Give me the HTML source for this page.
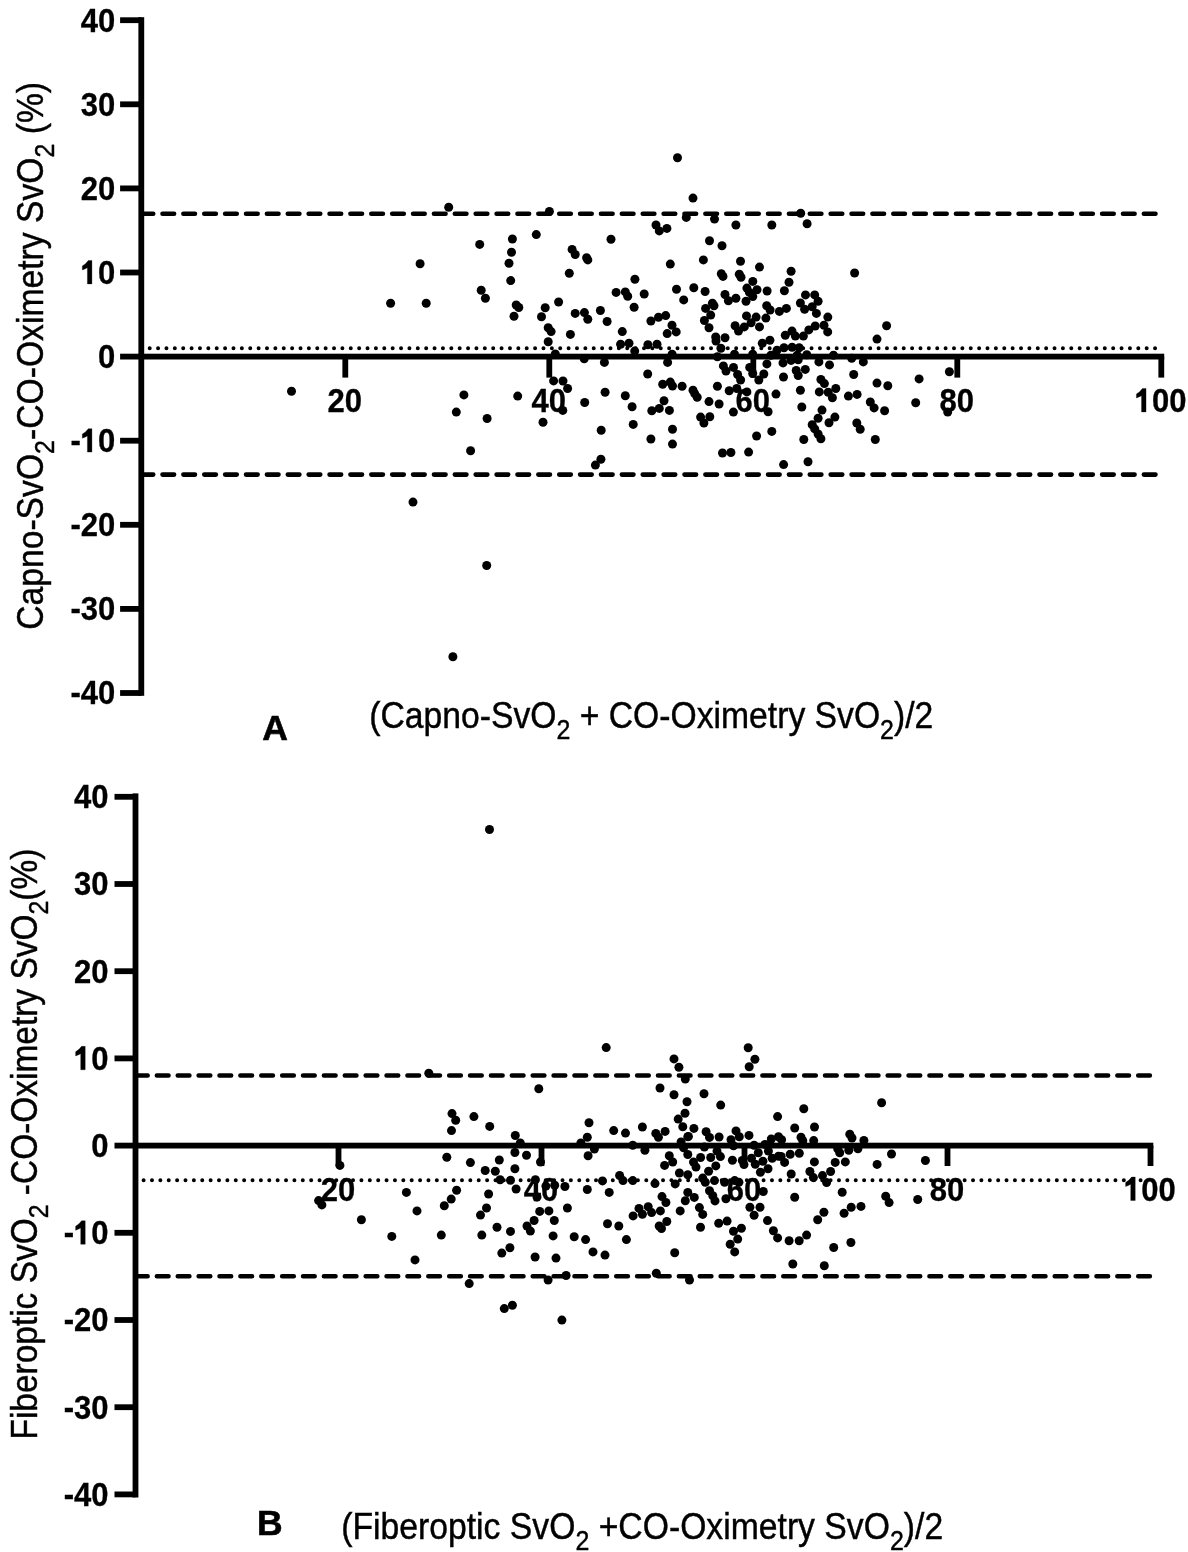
<!DOCTYPE html>
<html><head><meta charset="utf-8"><style>
html,body{margin:0;padding:0;background:#fff;}
svg{display:block;filter:grayscale(1);}
text{font-family:"Liberation Sans",sans-serif;fill:#000;}
.tk{font-weight:bold;font-size:31px;}
.tkg{stroke:#000;stroke-width:0.3px;}
.lab{font-size:33.5px;stroke:#000;stroke-width:0.4px;}
.pl{font-weight:bold;font-size:35.5px;stroke:#000;stroke-width:0.6px;}
</style></head><body>
<svg width="1188" height="1552" viewBox="0 0 1188 1552">
<rect width="1188" height="1552" fill="#fff"/>
<g fill="#000">
<rect x="138.40" y="17.20" width="5.8" height="678.60"/>
<rect x="120.10" y="17.30" width="21.20" height="5.8"/>
<g class="tkg" transform="translate(80.72,31.60) scale(1,1.07)"><text class="tk" x="0.00" y="0">40</text></g>
<rect x="120.10" y="101.40" width="21.20" height="5.8"/>
<g class="tkg" transform="translate(80.72,115.70) scale(1,1.07)"><text class="tk" x="0.00" y="0">30</text></g>
<rect x="120.10" y="185.50" width="21.20" height="5.8"/>
<g class="tkg" transform="translate(80.72,199.80) scale(1,1.07)"><text class="tk" x="0.00" y="0">20</text></g>
<rect x="120.10" y="269.60" width="21.20" height="5.8"/>
<g class="tkg" transform="translate(80.72,283.90) scale(1,1.07)"><path transform="translate(11.59,0)" d="M-0.4,0 L-0.4,-21.9 L-4.0,-21.9 Q-6.3,-18.8 -10.0,-16.8 L-10.0,-13.0 Q-7.4,-14.0 -4.9,-15.1 L-4.9,0 Z"/><text class="tk" x="17.24" y="0">0</text></g>
<rect x="120.10" y="353.70" width="21.20" height="5.8"/>
<g class="tkg" transform="translate(97.96,368.00) scale(1,1.07)"><text class="tk" x="0.00" y="0">0</text></g>
<rect x="120.10" y="437.80" width="21.20" height="5.8"/>
<g class="tkg" transform="translate(70.40,452.10) scale(1,1.07)"><text class="tk" x="0.00" y="0">-</text><path transform="translate(21.92,0)" d="M-0.4,0 L-0.4,-21.9 L-4.0,-21.9 Q-6.3,-18.8 -10.0,-16.8 L-10.0,-13.0 Q-7.4,-14.0 -4.9,-15.1 L-4.9,0 Z"/><text class="tk" x="27.56" y="0">0</text></g>
<rect x="120.10" y="521.90" width="21.20" height="5.8"/>
<g class="tkg" transform="translate(70.40,536.20) scale(1,1.07)"><text class="tk" x="0.00" y="0">-20</text></g>
<rect x="120.10" y="606.00" width="21.20" height="5.8"/>
<g class="tkg" transform="translate(70.40,620.30) scale(1,1.07)"><text class="tk" x="0.00" y="0">-30</text></g>
<rect x="120.10" y="690.10" width="21.20" height="5.8"/>
<g class="tkg" transform="translate(70.40,704.40) scale(1,1.07)"><text class="tk" x="0.00" y="0">-40</text></g>
<rect x="141.30" y="353.70" width="1022.90" height="5.8"/>
<rect x="342.40" y="356.60" width="5.8" height="21.00"/>
<g class="tkg" transform="translate(327.46,411.90) scale(1,1.07)"><text class="tk" x="0.00" y="0">20</text></g>
<rect x="546.40" y="356.60" width="5.8" height="21.00"/>
<g class="tkg" transform="translate(531.46,411.90) scale(1,1.07)"><text class="tk" x="0.00" y="0">40</text></g>
<rect x="750.40" y="356.60" width="5.8" height="21.00"/>
<g class="tkg" transform="translate(735.46,411.90) scale(1,1.07)"><text class="tk" x="0.00" y="0">60</text></g>
<rect x="954.40" y="356.60" width="5.8" height="21.00"/>
<g class="tkg" transform="translate(939.46,411.90) scale(1,1.07)"><text class="tk" x="0.00" y="0">80</text></g>
<rect x="1158.40" y="356.60" width="5.8" height="21.00"/>
<g class="tkg" transform="translate(1134.84,411.90) scale(1,1.07)"><path transform="translate(11.59,0)" d="M-0.4,0 L-0.4,-21.9 L-4.0,-21.9 Q-6.3,-18.8 -10.0,-16.8 L-10.0,-13.0 Q-7.4,-14.0 -4.9,-15.1 L-4.9,0 Z"/><text class="tk" x="17.24" y="0">00</text></g>
<line x1="141.63" y1="213.7" x2="1155.47" y2="213.7" stroke="#000" stroke-width="4.6" stroke-linecap="round" stroke-dasharray="11.6 9.28"/>
<line x1="141.63" y1="474.6" x2="1155.47" y2="474.6" stroke="#000" stroke-width="4.6" stroke-linecap="round" stroke-dasharray="11.6 9.28"/>
<line x1="149.70" y1="348.3" x2="1155.20" y2="348.3" stroke="#000" stroke-width="4.0" stroke-linecap="round" stroke-dasharray="0 8.378"/>
<circle cx="448.7" cy="207.3" r="4.5"/>
<circle cx="549.4" cy="211.5" r="4.5"/>
<circle cx="536.3" cy="234.6" r="4.5"/>
<circle cx="512.4" cy="239.0" r="4.5"/>
<circle cx="479.7" cy="244.4" r="4.5"/>
<circle cx="511.5" cy="252.3" r="4.5"/>
<circle cx="420.1" cy="263.7" r="4.5"/>
<circle cx="509.0" cy="263.2" r="4.5"/>
<circle cx="510.7" cy="280.6" r="4.5"/>
<circle cx="481.2" cy="290.3" r="4.5"/>
<circle cx="485.4" cy="298.2" r="4.5"/>
<circle cx="390.6" cy="303.3" r="4.5"/>
<circle cx="426.2" cy="303.3" r="4.5"/>
<circle cx="516.2" cy="305.0" r="4.5"/>
<circle cx="518.8" cy="307.5" r="4.5"/>
<circle cx="558.6" cy="302.0" r="4.5"/>
<circle cx="545.2" cy="307.8" r="4.5"/>
<circle cx="514.0" cy="316.3" r="4.5"/>
<circle cx="541.5" cy="316.8" r="4.5"/>
<circle cx="548.2" cy="327.7" r="4.5"/>
<circle cx="551.1" cy="331.6" r="4.5"/>
<circle cx="677.5" cy="157.7" r="4.5"/>
<circle cx="693.0" cy="198.1" r="4.5"/>
<circle cx="686.3" cy="217.4" r="4.5"/>
<circle cx="714.5" cy="219.1" r="4.5"/>
<circle cx="735.9" cy="225.0" r="4.5"/>
<circle cx="656.0" cy="225.0" r="4.5"/>
<circle cx="659.3" cy="230.9" r="4.5"/>
<circle cx="666.9" cy="228.4" r="4.5"/>
<circle cx="611.0" cy="239.3" r="4.5"/>
<circle cx="709.5" cy="240.7" r="4.5"/>
<circle cx="722.0" cy="245.7" r="4.5"/>
<circle cx="572.1" cy="249.4" r="4.5"/>
<circle cx="575.2" cy="254.5" r="4.5"/>
<circle cx="586.6" cy="257.8" r="4.5"/>
<circle cx="587.8" cy="259.9" r="4.5"/>
<circle cx="670.3" cy="264.1" r="4.5"/>
<circle cx="703.4" cy="259.9" r="4.5"/>
<circle cx="740.5" cy="261.2" r="4.5"/>
<circle cx="759.5" cy="267.1" r="4.5"/>
<circle cx="569.3" cy="273.3" r="4.5"/>
<circle cx="721.3" cy="273.8" r="4.5"/>
<circle cx="723.0" cy="276.4" r="4.5"/>
<circle cx="739.3" cy="274.3" r="4.5"/>
<circle cx="741.0" cy="277.2" r="4.5"/>
<circle cx="634.9" cy="279.2" r="4.5"/>
<circle cx="752.8" cy="281.4" r="4.5"/>
<circle cx="616.1" cy="292.4" r="4.5"/>
<circle cx="625.3" cy="291.9" r="4.5"/>
<circle cx="627.7" cy="296.2" r="4.5"/>
<circle cx="644.2" cy="294.0" r="4.5"/>
<circle cx="676.5" cy="289.3" r="4.5"/>
<circle cx="693.8" cy="287.8" r="4.5"/>
<circle cx="705.1" cy="291.5" r="4.5"/>
<circle cx="746.9" cy="288.1" r="4.5"/>
<circle cx="749.4" cy="292.4" r="4.5"/>
<circle cx="757.0" cy="289.8" r="4.5"/>
<circle cx="752.8" cy="296.6" r="4.5"/>
<circle cx="725.0" cy="294.5" r="4.5"/>
<circle cx="728.4" cy="300.8" r="4.5"/>
<circle cx="735.9" cy="298.2" r="4.5"/>
<circle cx="746.0" cy="301.3" r="4.5"/>
<circle cx="683.7" cy="299.9" r="4.5"/>
<circle cx="712.4" cy="303.3" r="4.5"/>
<circle cx="714.0" cy="305.8" r="4.5"/>
<circle cx="705.6" cy="308.4" r="4.5"/>
<circle cx="634.1" cy="307.2" r="4.5"/>
<circle cx="600.4" cy="310.5" r="4.5"/>
<circle cx="575.2" cy="313.4" r="4.5"/>
<circle cx="584.4" cy="312.6" r="4.5"/>
<circle cx="587.8" cy="319.3" r="4.5"/>
<circle cx="607.1" cy="321.5" r="4.5"/>
<circle cx="665.7" cy="315.6" r="4.5"/>
<circle cx="658.5" cy="317.3" r="4.5"/>
<circle cx="650.9" cy="321.0" r="4.5"/>
<circle cx="710.7" cy="315.1" r="4.5"/>
<circle cx="704.4" cy="320.5" r="4.5"/>
<circle cx="746.5" cy="315.9" r="4.5"/>
<circle cx="756.1" cy="317.1" r="4.5"/>
<circle cx="751.1" cy="322.7" r="4.5"/>
<circle cx="759.5" cy="326.9" r="4.5"/>
<circle cx="735.1" cy="325.7" r="4.5"/>
<circle cx="744.3" cy="326.9" r="4.5"/>
<circle cx="738.5" cy="331.1" r="4.5"/>
<circle cx="709.0" cy="327.7" r="4.5"/>
<circle cx="672.0" cy="325.2" r="4.5"/>
<circle cx="676.2" cy="331.9" r="4.5"/>
<circle cx="667.2" cy="333.6" r="4.5"/>
<circle cx="622.3" cy="331.6" r="4.5"/>
<circle cx="570.4" cy="334.4" r="4.5"/>
<circle cx="715.7" cy="337.0" r="4.5"/>
<circle cx="725.0" cy="337.8" r="4.5"/>
<circle cx="800.7" cy="213.2" r="4.5"/>
<circle cx="771.8" cy="225.0" r="4.5"/>
<circle cx="807.1" cy="223.7" r="4.5"/>
<circle cx="791.1" cy="271.3" r="4.5"/>
<circle cx="854.6" cy="273.0" r="4.5"/>
<circle cx="789.0" cy="282.3" r="4.5"/>
<circle cx="784.4" cy="290.7" r="4.5"/>
<circle cx="767.1" cy="291.0" r="4.5"/>
<circle cx="805.5" cy="294.9" r="4.5"/>
<circle cx="814.7" cy="294.9" r="4.5"/>
<circle cx="818.1" cy="301.3" r="4.5"/>
<circle cx="800.4" cy="303.0" r="4.5"/>
<circle cx="812.2" cy="306.7" r="4.5"/>
<circle cx="804.6" cy="309.2" r="4.5"/>
<circle cx="816.4" cy="313.4" r="4.5"/>
<circle cx="766.7" cy="305.8" r="4.5"/>
<circle cx="770.1" cy="310.0" r="4.5"/>
<circle cx="779.4" cy="311.4" r="4.5"/>
<circle cx="786.4" cy="308.4" r="4.5"/>
<circle cx="765.9" cy="318.1" r="4.5"/>
<circle cx="827.8" cy="317.1" r="4.5"/>
<circle cx="886.6" cy="325.7" r="4.5"/>
<circle cx="815.2" cy="326.0" r="4.5"/>
<circle cx="808.8" cy="329.9" r="4.5"/>
<circle cx="824.0" cy="325.2" r="4.5"/>
<circle cx="827.7" cy="331.9" r="4.5"/>
<circle cx="785.3" cy="335.3" r="4.5"/>
<circle cx="792.0" cy="331.1" r="4.5"/>
<circle cx="795.4" cy="336.1" r="4.5"/>
<circle cx="803.4" cy="336.1" r="4.5"/>
<circle cx="291.5" cy="391.3" r="4.5"/>
<circle cx="548.2" cy="341.7" r="4.5"/>
<circle cx="555.3" cy="354.0" r="4.5"/>
<circle cx="553.6" cy="380.9" r="4.5"/>
<circle cx="463.9" cy="394.9" r="4.5"/>
<circle cx="517.7" cy="396.1" r="4.5"/>
<circle cx="456.3" cy="412.1" r="4.5"/>
<circle cx="487.1" cy="418.5" r="4.5"/>
<circle cx="543.0" cy="422.2" r="4.5"/>
<circle cx="470.6" cy="450.8" r="4.5"/>
<circle cx="413.0" cy="502.1" r="4.5"/>
<circle cx="620.6" cy="344.2" r="4.5"/>
<circle cx="629.0" cy="343.2" r="4.5"/>
<circle cx="634.7" cy="351.1" r="4.5"/>
<circle cx="647.9" cy="344.7" r="4.5"/>
<circle cx="657.0" cy="344.2" r="4.5"/>
<circle cx="584.2" cy="358.8" r="4.5"/>
<circle cx="604.4" cy="362.4" r="4.5"/>
<circle cx="667.6" cy="362.4" r="4.5"/>
<circle cx="672.1" cy="354.3" r="4.5"/>
<circle cx="647.7" cy="374.0" r="4.5"/>
<circle cx="563.0" cy="381.0" r="4.5"/>
<circle cx="716.0" cy="341.0" r="4.5"/>
<circle cx="720.9" cy="348.2" r="4.5"/>
<circle cx="717.4" cy="356.8" r="4.5"/>
<circle cx="734.5" cy="354.3" r="4.5"/>
<circle cx="752.7" cy="354.3" r="4.5"/>
<circle cx="723.4" cy="365.9" r="4.5"/>
<circle cx="726.0" cy="371.0" r="4.5"/>
<circle cx="733.5" cy="367.4" r="4.5"/>
<circle cx="737.6" cy="374.5" r="4.5"/>
<circle cx="740.6" cy="380.0" r="4.5"/>
<circle cx="749.7" cy="367.4" r="4.5"/>
<circle cx="752.7" cy="373.5" r="4.5"/>
<circle cx="758.8" cy="380.0" r="4.5"/>
<circle cx="763.8" cy="374.0" r="4.5"/>
<circle cx="766.9" cy="363.9" r="4.5"/>
<circle cx="762.3" cy="343.2" r="4.5"/>
<circle cx="769.9" cy="340.2" r="4.5"/>
<circle cx="777.0" cy="350.3" r="4.5"/>
<circle cx="784.0" cy="347.7" r="4.5"/>
<circle cx="792.1" cy="347.2" r="4.5"/>
<circle cx="799.2" cy="347.7" r="4.5"/>
<circle cx="783.0" cy="362.9" r="4.5"/>
<circle cx="791.1" cy="360.4" r="4.5"/>
<circle cx="798.2" cy="359.8" r="4.5"/>
<circle cx="796.2" cy="370.5" r="4.5"/>
<circle cx="798.2" cy="375.5" r="4.5"/>
<circle cx="783.5" cy="377.0" r="4.5"/>
<circle cx="770.9" cy="355.3" r="4.5"/>
<circle cx="567.6" cy="388.5" r="4.5"/>
<circle cx="562.8" cy="410.4" r="4.5"/>
<circle cx="584.7" cy="402.5" r="4.5"/>
<circle cx="605.1" cy="392.2" r="4.5"/>
<circle cx="625.3" cy="395.7" r="4.5"/>
<circle cx="632.1" cy="406.7" r="4.5"/>
<circle cx="662.7" cy="384.3" r="4.5"/>
<circle cx="670.3" cy="382.1" r="4.5"/>
<circle cx="672.5" cy="386.0" r="4.5"/>
<circle cx="682.1" cy="386.3" r="4.5"/>
<circle cx="664.0" cy="400.8" r="4.5"/>
<circle cx="651.8" cy="410.7" r="4.5"/>
<circle cx="659.3" cy="408.4" r="4.5"/>
<circle cx="669.4" cy="410.4" r="4.5"/>
<circle cx="633.2" cy="424.4" r="4.5"/>
<circle cx="601.2" cy="430.3" r="4.5"/>
<circle cx="672.5" cy="429.2" r="4.5"/>
<circle cx="650.9" cy="439.0" r="4.5"/>
<circle cx="672.5" cy="444.1" r="4.5"/>
<circle cx="600.9" cy="459.2" r="4.5"/>
<circle cx="595.4" cy="465.1" r="4.5"/>
<circle cx="693.0" cy="390.2" r="4.5"/>
<circle cx="694.7" cy="393.6" r="4.5"/>
<circle cx="697.2" cy="397.3" r="4.5"/>
<circle cx="709.0" cy="401.6" r="4.5"/>
<circle cx="700.6" cy="417.1" r="4.5"/>
<circle cx="709.8" cy="416.8" r="4.5"/>
<circle cx="703.9" cy="423.0" r="4.5"/>
<circle cx="717.4" cy="386.3" r="4.5"/>
<circle cx="719.1" cy="404.0" r="4.5"/>
<circle cx="729.2" cy="390.7" r="4.5"/>
<circle cx="733.4" cy="412.1" r="4.5"/>
<circle cx="736.8" cy="388.5" r="4.5"/>
<circle cx="746.9" cy="391.9" r="4.5"/>
<circle cx="722.5" cy="453.0" r="4.5"/>
<circle cx="730.9" cy="452.5" r="4.5"/>
<circle cx="748.6" cy="452.1" r="4.5"/>
<circle cx="756.6" cy="436.0" r="4.5"/>
<circle cx="877.0" cy="339.1" r="4.5"/>
<circle cx="797.2" cy="355.3" r="4.5"/>
<circle cx="806.8" cy="354.8" r="4.5"/>
<circle cx="818.9" cy="361.9" r="4.5"/>
<circle cx="829.5" cy="364.9" r="4.5"/>
<circle cx="833.5" cy="355.3" r="4.5"/>
<circle cx="851.7" cy="358.3" r="4.5"/>
<circle cx="863.3" cy="361.9" r="4.5"/>
<circle cx="805.3" cy="369.4" r="4.5"/>
<circle cx="820.9" cy="379.5" r="4.5"/>
<circle cx="824.4" cy="383.6" r="4.5"/>
<circle cx="853.7" cy="374.5" r="4.5"/>
<circle cx="877.0" cy="383.1" r="4.5"/>
<circle cx="887.8" cy="385.7" r="4.5"/>
<circle cx="949.4" cy="371.7" r="4.5"/>
<circle cx="919.1" cy="378.9" r="4.5"/>
<circle cx="915.7" cy="402.8" r="4.5"/>
<circle cx="947.7" cy="412.1" r="4.5"/>
<circle cx="835.8" cy="388.5" r="4.5"/>
<circle cx="828.2" cy="392.2" r="4.5"/>
<circle cx="832.4" cy="397.8" r="4.5"/>
<circle cx="819.3" cy="391.9" r="4.5"/>
<circle cx="800.4" cy="390.2" r="4.5"/>
<circle cx="776.0" cy="394.1" r="4.5"/>
<circle cx="768.1" cy="411.7" r="4.5"/>
<circle cx="801.8" cy="407.0" r="4.5"/>
<circle cx="848.4" cy="396.1" r="4.5"/>
<circle cx="857.1" cy="394.4" r="4.5"/>
<circle cx="870.3" cy="402.0" r="4.5"/>
<circle cx="874.1" cy="407.9" r="4.5"/>
<circle cx="884.6" cy="410.7" r="4.5"/>
<circle cx="822.0" cy="410.1" r="4.5"/>
<circle cx="818.1" cy="418.3" r="4.5"/>
<circle cx="834.9" cy="417.1" r="4.5"/>
<circle cx="829.0" cy="422.7" r="4.5"/>
<circle cx="812.2" cy="424.7" r="4.5"/>
<circle cx="814.7" cy="428.9" r="4.5"/>
<circle cx="818.1" cy="434.0" r="4.5"/>
<circle cx="820.9" cy="438.7" r="4.5"/>
<circle cx="856.8" cy="423.0" r="4.5"/>
<circle cx="860.2" cy="429.2" r="4.5"/>
<circle cx="875.3" cy="439.5" r="4.5"/>
<circle cx="803.8" cy="439.5" r="4.5"/>
<circle cx="771.8" cy="431.4" r="4.5"/>
<circle cx="808.0" cy="461.7" r="4.5"/>
<circle cx="783.6" cy="464.6" r="4.5"/>
<circle cx="486.7" cy="565.5" r="4.5"/>
<circle cx="452.9" cy="656.7" r="4.5"/>
<rect x="132.60" y="793.40" width="5.8" height="704.10"/>
<rect x="114.50" y="793.90" width="21.00" height="5.8"/>
<g class="tkg" transform="translate(74.02,808.20) scale(1,1.07)"><text class="tk" x="0.00" y="0">40</text></g>
<rect x="114.50" y="881.10" width="21.00" height="5.8"/>
<g class="tkg" transform="translate(74.02,895.40) scale(1,1.07)"><text class="tk" x="0.00" y="0">30</text></g>
<rect x="114.50" y="968.30" width="21.00" height="5.8"/>
<g class="tkg" transform="translate(74.02,982.60) scale(1,1.07)"><text class="tk" x="0.00" y="0">20</text></g>
<rect x="114.50" y="1055.50" width="21.00" height="5.8"/>
<g class="tkg" transform="translate(74.02,1069.80) scale(1,1.07)"><path transform="translate(11.59,0)" d="M-0.4,0 L-0.4,-21.9 L-4.0,-21.9 Q-6.3,-18.8 -10.0,-16.8 L-10.0,-13.0 Q-7.4,-14.0 -4.9,-15.1 L-4.9,0 Z"/><text class="tk" x="17.24" y="0">0</text></g>
<rect x="114.50" y="1142.70" width="21.00" height="5.8"/>
<g class="tkg" transform="translate(91.26,1157.00) scale(1,1.07)"><text class="tk" x="0.00" y="0">0</text></g>
<rect x="114.50" y="1229.90" width="21.00" height="5.8"/>
<g class="tkg" transform="translate(63.70,1244.20) scale(1,1.07)"><text class="tk" x="0.00" y="0">-</text><path transform="translate(21.92,0)" d="M-0.4,0 L-0.4,-21.9 L-4.0,-21.9 Q-6.3,-18.8 -10.0,-16.8 L-10.0,-13.0 Q-7.4,-14.0 -4.9,-15.1 L-4.9,0 Z"/><text class="tk" x="27.56" y="0">0</text></g>
<rect x="114.50" y="1317.10" width="21.00" height="5.8"/>
<g class="tkg" transform="translate(63.70,1331.40) scale(1,1.07)"><text class="tk" x="0.00" y="0">-20</text></g>
<rect x="114.50" y="1404.30" width="21.00" height="5.8"/>
<g class="tkg" transform="translate(63.70,1418.60) scale(1,1.07)"><text class="tk" x="0.00" y="0">-30</text></g>
<rect x="114.50" y="1491.50" width="21.00" height="5.8"/>
<g class="tkg" transform="translate(63.70,1505.80) scale(1,1.07)"><text class="tk" x="0.00" y="0">-40</text></g>
<rect x="135.50" y="1142.70" width="1017.80" height="5.8"/>
<rect x="335.60" y="1145.60" width="5.8" height="20.40"/>
<g class="tkg" transform="translate(320.66,1200.50) scale(1,1.07)"><text class="tk" x="0.00" y="0">20</text></g>
<rect x="538.60" y="1145.60" width="5.8" height="20.40"/>
<g class="tkg" transform="translate(523.66,1200.50) scale(1,1.07)"><text class="tk" x="0.00" y="0">40</text></g>
<rect x="741.60" y="1145.60" width="5.8" height="20.40"/>
<g class="tkg" transform="translate(726.66,1200.50) scale(1,1.07)"><text class="tk" x="0.00" y="0">60</text></g>
<rect x="944.60" y="1145.60" width="5.8" height="20.40"/>
<g class="tkg" transform="translate(929.66,1200.50) scale(1,1.07)"><text class="tk" x="0.00" y="0">80</text></g>
<rect x="1147.60" y="1145.60" width="5.8" height="20.40"/>
<g class="tkg" transform="translate(1124.04,1200.50) scale(1,1.07)"><path transform="translate(11.59,0)" d="M-0.4,0 L-0.4,-21.9 L-4.0,-21.9 Q-6.3,-18.8 -10.0,-16.8 L-10.0,-13.0 Q-7.4,-14.0 -4.9,-15.1 L-4.9,0 Z"/><text class="tk" x="17.24" y="0">00</text></g>
<line x1="136.02" y1="1075.5" x2="1149.86" y2="1075.5" stroke="#000" stroke-width="4.6" stroke-linecap="round" stroke-dasharray="11.6 9.28"/>
<line x1="136.02" y1="1276.2" x2="1149.86" y2="1276.2" stroke="#000" stroke-width="4.6" stroke-linecap="round" stroke-dasharray="11.6 9.28"/>
<line x1="143.60" y1="1180.3" x2="1144.10" y2="1180.3" stroke="#000" stroke-width="4.0" stroke-linecap="round" stroke-dasharray="0 8.378"/>
<circle cx="489.5" cy="829.5" r="4.5"/>
<circle cx="428.8" cy="1073.3" r="4.5"/>
<circle cx="452.0" cy="1113.6" r="4.5"/>
<circle cx="455.7" cy="1120.3" r="4.5"/>
<circle cx="473.9" cy="1116.6" r="4.5"/>
<circle cx="489.7" cy="1126.4" r="4.5"/>
<circle cx="451.5" cy="1130.6" r="4.5"/>
<circle cx="446.8" cy="1157.3" r="4.5"/>
<circle cx="470.4" cy="1162.6" r="4.5"/>
<circle cx="485.2" cy="1170.5" r="4.5"/>
<circle cx="495.3" cy="1171.3" r="4.5"/>
<circle cx="339.9" cy="1165.4" r="4.5"/>
<circle cx="318.6" cy="1200.6" r="4.5"/>
<circle cx="321.9" cy="1204.9" r="4.5"/>
<circle cx="406.4" cy="1192.4" r="4.5"/>
<circle cx="456.6" cy="1190.3" r="4.5"/>
<circle cx="451.2" cy="1199.1" r="4.5"/>
<circle cx="444.3" cy="1205.8" r="4.5"/>
<circle cx="488.6" cy="1194.0" r="4.5"/>
<circle cx="486.5" cy="1208.0" r="4.5"/>
<circle cx="480.5" cy="1215.1" r="4.5"/>
<circle cx="417.0" cy="1210.9" r="4.5"/>
<circle cx="361.4" cy="1219.8" r="4.5"/>
<circle cx="391.8" cy="1236.4" r="4.5"/>
<circle cx="441.3" cy="1235.1" r="4.5"/>
<circle cx="481.8" cy="1235.1" r="4.5"/>
<circle cx="497.0" cy="1227.2" r="4.5"/>
<circle cx="415.0" cy="1259.9" r="4.5"/>
<circle cx="469.2" cy="1283.6" r="4.5"/>
<circle cx="606.2" cy="1047.6" r="4.5"/>
<circle cx="674.0" cy="1058.9" r="4.5"/>
<circle cx="678.9" cy="1067.3" r="4.5"/>
<circle cx="685.3" cy="1079.1" r="4.5"/>
<circle cx="538.8" cy="1088.8" r="4.5"/>
<circle cx="660.0" cy="1088.0" r="4.5"/>
<circle cx="674.0" cy="1094.7" r="4.5"/>
<circle cx="687.0" cy="1101.8" r="4.5"/>
<circle cx="685.0" cy="1113.2" r="4.5"/>
<circle cx="678.2" cy="1119.1" r="4.5"/>
<circle cx="682.8" cy="1126.7" r="4.5"/>
<circle cx="687.8" cy="1136.8" r="4.5"/>
<circle cx="589.0" cy="1122.8" r="4.5"/>
<circle cx="613.7" cy="1130.6" r="4.5"/>
<circle cx="625.5" cy="1133.1" r="4.5"/>
<circle cx="642.4" cy="1127.0" r="4.5"/>
<circle cx="655.8" cy="1133.4" r="4.5"/>
<circle cx="658.4" cy="1137.3" r="4.5"/>
<circle cx="665.1" cy="1131.4" r="4.5"/>
<circle cx="515.3" cy="1135.5" r="4.5"/>
<circle cx="587.3" cy="1137.3" r="4.5"/>
<circle cx="520.3" cy="1143.0" r="4.5"/>
<circle cx="580.9" cy="1143.0" r="4.5"/>
<circle cx="594.4" cy="1149.1" r="4.5"/>
<circle cx="632.8" cy="1145.2" r="4.5"/>
<circle cx="644.9" cy="1150.3" r="4.5"/>
<circle cx="681.1" cy="1141.9" r="4.5"/>
<circle cx="683.6" cy="1147.7" r="4.5"/>
<circle cx="687.8" cy="1154.5" r="4.5"/>
<circle cx="514.9" cy="1152.5" r="4.5"/>
<circle cx="526.5" cy="1155.3" r="4.5"/>
<circle cx="588.1" cy="1155.8" r="4.5"/>
<circle cx="499.3" cy="1160.0" r="4.5"/>
<circle cx="540.5" cy="1162.0" r="4.5"/>
<circle cx="669.3" cy="1155.8" r="4.5"/>
<circle cx="672.7" cy="1162.0" r="4.5"/>
<circle cx="664.6" cy="1165.4" r="4.5"/>
<circle cx="514.9" cy="1168.8" r="4.5"/>
<circle cx="500.1" cy="1179.7" r="4.5"/>
<circle cx="510.5" cy="1180.2" r="4.5"/>
<circle cx="516.1" cy="1189.0" r="4.5"/>
<circle cx="564.9" cy="1186.5" r="4.5"/>
<circle cx="587.3" cy="1189.5" r="4.5"/>
<circle cx="602.5" cy="1180.9" r="4.5"/>
<circle cx="609.2" cy="1192.4" r="4.5"/>
<circle cx="619.6" cy="1175.5" r="4.5"/>
<circle cx="623.0" cy="1180.6" r="4.5"/>
<circle cx="632.8" cy="1180.6" r="4.5"/>
<circle cx="655.0" cy="1183.6" r="4.5"/>
<circle cx="679.4" cy="1173.0" r="4.5"/>
<circle cx="675.2" cy="1183.9" r="4.5"/>
<circle cx="687.8" cy="1174.7" r="4.5"/>
<circle cx="687.8" cy="1192.4" r="4.5"/>
<circle cx="662.0" cy="1196.6" r="4.5"/>
<circle cx="665.9" cy="1202.5" r="4.5"/>
<circle cx="685.3" cy="1200.8" r="4.5"/>
<circle cx="680.2" cy="1210.9" r="4.5"/>
<circle cx="660.4" cy="1210.9" r="4.5"/>
<circle cx="639.0" cy="1208.4" r="4.5"/>
<circle cx="642.4" cy="1214.2" r="4.5"/>
<circle cx="648.2" cy="1206.7" r="4.5"/>
<circle cx="651.6" cy="1212.6" r="4.5"/>
<circle cx="633.1" cy="1215.9" r="4.5"/>
<circle cx="567.4" cy="1208.0" r="4.5"/>
<circle cx="539.7" cy="1211.4" r="4.5"/>
<circle cx="548.9" cy="1210.9" r="4.5"/>
<circle cx="534.1" cy="1220.5" r="4.5"/>
<circle cx="554.3" cy="1220.5" r="4.5"/>
<circle cx="527.0" cy="1226.0" r="4.5"/>
<circle cx="530.4" cy="1231.1" r="4.5"/>
<circle cx="510.5" cy="1231.4" r="4.5"/>
<circle cx="607.5" cy="1223.8" r="4.5"/>
<circle cx="618.8" cy="1226.0" r="4.5"/>
<circle cx="659.2" cy="1226.0" r="4.5"/>
<circle cx="661.5" cy="1228.5" r="4.5"/>
<circle cx="666.8" cy="1221.5" r="4.5"/>
<circle cx="535.4" cy="1179.8" r="4.5"/>
<circle cx="545.9" cy="1186.1" r="4.5"/>
<circle cx="554.7" cy="1185.3" r="4.5"/>
<circle cx="537.0" cy="1197.0" r="4.5"/>
<circle cx="748.2" cy="1047.7" r="4.5"/>
<circle cx="754.9" cy="1059.2" r="4.5"/>
<circle cx="749.2" cy="1066.8" r="4.5"/>
<circle cx="704.0" cy="1093.7" r="4.5"/>
<circle cx="720.7" cy="1105.1" r="4.5"/>
<circle cx="777.6" cy="1116.6" r="4.5"/>
<circle cx="693.9" cy="1128.4" r="4.5"/>
<circle cx="706.1" cy="1131.8" r="4.5"/>
<circle cx="709.5" cy="1137.4" r="4.5"/>
<circle cx="719.1" cy="1137.0" r="4.5"/>
<circle cx="736.0" cy="1130.9" r="4.5"/>
<circle cx="739.3" cy="1136.8" r="4.5"/>
<circle cx="749.0" cy="1135.4" r="4.5"/>
<circle cx="731.0" cy="1139.8" r="4.5"/>
<circle cx="688.4" cy="1136.4" r="4.5"/>
<circle cx="771.3" cy="1139.0" r="4.5"/>
<circle cx="778.5" cy="1136.8" r="4.5"/>
<circle cx="704.4" cy="1147.0" r="4.5"/>
<circle cx="733.5" cy="1145.7" r="4.5"/>
<circle cx="700.6" cy="1157.5" r="4.5"/>
<circle cx="710.7" cy="1157.5" r="4.5"/>
<circle cx="717.0" cy="1151.1" r="4.5"/>
<circle cx="720.4" cy="1156.6" r="4.5"/>
<circle cx="732.4" cy="1160.2" r="4.5"/>
<circle cx="742.3" cy="1160.4" r="4.5"/>
<circle cx="744.0" cy="1164.6" r="4.5"/>
<circle cx="751.5" cy="1158.3" r="4.5"/>
<circle cx="755.3" cy="1164.2" r="4.5"/>
<circle cx="754.1" cy="1145.3" r="4.5"/>
<circle cx="758.3" cy="1152.8" r="4.5"/>
<circle cx="762.9" cy="1161.2" r="4.5"/>
<circle cx="765.0" cy="1144.4" r="4.5"/>
<circle cx="768.4" cy="1151.1" r="4.5"/>
<circle cx="772.2" cy="1158.3" r="4.5"/>
<circle cx="778.5" cy="1156.2" r="4.5"/>
<circle cx="693.5" cy="1162.1" r="4.5"/>
<circle cx="696.0" cy="1167.1" r="4.5"/>
<circle cx="715.8" cy="1165.9" r="4.5"/>
<circle cx="708.6" cy="1171.3" r="4.5"/>
<circle cx="702.7" cy="1178.1" r="4.5"/>
<circle cx="705.3" cy="1182.3" r="4.5"/>
<circle cx="714.5" cy="1180.6" r="4.5"/>
<circle cx="760.4" cy="1172.2" r="4.5"/>
<circle cx="768.0" cy="1168.8" r="4.5"/>
<circle cx="724.6" cy="1182.3" r="4.5"/>
<circle cx="734.7" cy="1180.6" r="4.5"/>
<circle cx="738.9" cy="1182.3" r="4.5"/>
<circle cx="763.3" cy="1191.5" r="4.5"/>
<circle cx="709.5" cy="1190.7" r="4.5"/>
<circle cx="712.8" cy="1195.8" r="4.5"/>
<circle cx="694.3" cy="1197.4" r="4.5"/>
<circle cx="725.9" cy="1198.7" r="4.5"/>
<circle cx="881.6" cy="1102.8" r="4.5"/>
<circle cx="803.8" cy="1108.7" r="4.5"/>
<circle cx="794.7" cy="1128.0" r="4.5"/>
<circle cx="814.5" cy="1127.0" r="4.5"/>
<circle cx="849.8" cy="1134.2" r="4.5"/>
<circle cx="852.0" cy="1138.0" r="4.5"/>
<circle cx="801.0" cy="1137.3" r="4.5"/>
<circle cx="781.6" cy="1139.7" r="4.5"/>
<circle cx="802.8" cy="1140.7" r="4.5"/>
<circle cx="813.7" cy="1140.6" r="4.5"/>
<circle cx="863.9" cy="1140.4" r="4.5"/>
<circle cx="837.7" cy="1148.8" r="4.5"/>
<circle cx="839.7" cy="1152.8" r="4.5"/>
<circle cx="848.8" cy="1150.3" r="4.5"/>
<circle cx="857.9" cy="1148.8" r="4.5"/>
<circle cx="781.1" cy="1156.4" r="4.5"/>
<circle cx="784.6" cy="1162.4" r="4.5"/>
<circle cx="790.2" cy="1154.3" r="4.5"/>
<circle cx="799.3" cy="1153.3" r="4.5"/>
<circle cx="814.4" cy="1161.9" r="4.5"/>
<circle cx="835.2" cy="1162.4" r="4.5"/>
<circle cx="845.3" cy="1161.9" r="4.5"/>
<circle cx="877.1" cy="1164.4" r="4.5"/>
<circle cx="791.2" cy="1174.0" r="4.5"/>
<circle cx="809.9" cy="1171.5" r="4.5"/>
<circle cx="813.4" cy="1177.6" r="4.5"/>
<circle cx="822.5" cy="1175.6" r="4.5"/>
<circle cx="826.6" cy="1182.6" r="4.5"/>
<circle cx="830.6" cy="1171.5" r="4.5"/>
<circle cx="842.2" cy="1192.2" r="4.5"/>
<circle cx="794.7" cy="1197.3" r="4.5"/>
<circle cx="885.7" cy="1196.3" r="4.5"/>
<circle cx="553.1" cy="1235.9" r="4.5"/>
<circle cx="574.2" cy="1236.8" r="4.5"/>
<circle cx="585.6" cy="1239.6" r="4.5"/>
<circle cx="626.4" cy="1239.6" r="4.5"/>
<circle cx="509.9" cy="1247.7" r="4.5"/>
<circle cx="501.8" cy="1253.1" r="4.5"/>
<circle cx="535.1" cy="1257.0" r="4.5"/>
<circle cx="556.0" cy="1258.1" r="4.5"/>
<circle cx="593.0" cy="1251.9" r="4.5"/>
<circle cx="605.0" cy="1255.1" r="4.5"/>
<circle cx="674.7" cy="1252.7" r="4.5"/>
<circle cx="548.1" cy="1280.0" r="4.5"/>
<circle cx="566.1" cy="1275.5" r="4.5"/>
<circle cx="656.3" cy="1273.3" r="4.5"/>
<circle cx="504.3" cy="1308.6" r="4.5"/>
<circle cx="512.4" cy="1305.3" r="4.5"/>
<circle cx="561.9" cy="1320.1" r="4.5"/>
<circle cx="715.0" cy="1200.9" r="4.5"/>
<circle cx="699.4" cy="1207.6" r="4.5"/>
<circle cx="702.7" cy="1214.4" r="4.5"/>
<circle cx="700.5" cy="1227.3" r="4.5"/>
<circle cx="718.7" cy="1223.3" r="4.5"/>
<circle cx="727.1" cy="1221.1" r="4.5"/>
<circle cx="733.5" cy="1231.2" r="4.5"/>
<circle cx="741.4" cy="1228.2" r="4.5"/>
<circle cx="737.7" cy="1239.1" r="4.5"/>
<circle cx="730.2" cy="1244.3" r="4.5"/>
<circle cx="734.7" cy="1251.9" r="4.5"/>
<circle cx="749.9" cy="1207.3" r="4.5"/>
<circle cx="760.0" cy="1207.3" r="4.5"/>
<circle cx="754.1" cy="1215.2" r="4.5"/>
<circle cx="767.5" cy="1220.6" r="4.5"/>
<circle cx="773.4" cy="1230.7" r="4.5"/>
<circle cx="777.6" cy="1237.9" r="4.5"/>
<circle cx="789.1" cy="1240.8" r="4.5"/>
<circle cx="799.2" cy="1240.8" r="4.5"/>
<circle cx="806.6" cy="1235.1" r="4.5"/>
<circle cx="817.7" cy="1219.7" r="4.5"/>
<circle cx="823.9" cy="1212.3" r="4.5"/>
<circle cx="844.1" cy="1213.2" r="4.5"/>
<circle cx="851.2" cy="1207.3" r="4.5"/>
<circle cx="861.0" cy="1206.4" r="4.5"/>
<circle cx="833.7" cy="1247.5" r="4.5"/>
<circle cx="850.9" cy="1242.5" r="4.5"/>
<circle cx="792.8" cy="1264.0" r="4.5"/>
<circle cx="824.3" cy="1265.7" r="4.5"/>
<circle cx="689.5" cy="1280.0" r="4.5"/>
<circle cx="891.5" cy="1154.0" r="4.5"/>
<circle cx="925.4" cy="1160.5" r="4.5"/>
<circle cx="889.1" cy="1202.6" r="4.5"/>
<circle cx="917.7" cy="1199.5" r="4.5"/>
</g>
<text class="lab" style="font-size:33.68px" transform="translate(42.5,629.8) rotate(-90) scale(1,1.1)">Capno-SvO<tspan font-size="25" dy="10.0">2</tspan><tspan dy="-10.0">-CO-Oximetry SvO</tspan><tspan font-size="25" dy="10.0">2</tspan><tspan dy="-10.0"> (%)</tspan></text>
<text class="lab" style="font-size:33.45px" transform="translate(36.5,1439.5) rotate(-90) scale(1,1.1)">Fiberoptic SvO<tspan font-size="25" dy="10.0">2</tspan><tspan dy="-10.0"> -CO-Oximetry SvO</tspan><tspan font-size="25" dy="10.0">2</tspan><tspan dy="-10.0">(%)</tspan></text>
<text class="lab" style="font-size:33.7px" transform="translate(369.3,727.8) scale(1,1.1)">(Capno-SvO<tspan font-size="25" dy="10.0">2</tspan><tspan dy="-10.0"> + CO-Oximetry SvO</tspan><tspan font-size="25" dy="10.0">2</tspan><tspan dy="-10.0">)/2</tspan></text>
<text class="lab" style="font-size:33.72px" transform="translate(341.2,1538.6) scale(1,1.1)">(Fiberoptic SvO<tspan font-size="25" dy="10.0">2</tspan><tspan dy="-10.0"> +CO-Oximetry SvO</tspan><tspan font-size="25" dy="10.0">2</tspan><tspan dy="-10.0">)/2</tspan></text>
<text class="pl" x="262.3" y="740.3">A</text>
<text class="pl" x="257" y="1535.3">B</text>
</svg>
</body></html>
